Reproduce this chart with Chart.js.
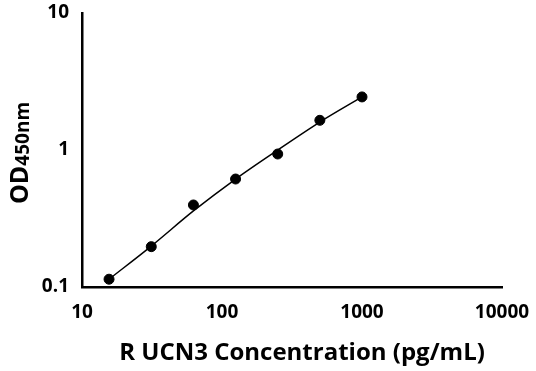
<!DOCTYPE html>
<html>
<head>
<meta charset="utf-8">
<script src="https://cdn.jsdelivr.net/npm/chart.js@4"></script>
<style>
html,body{margin:0;padding:0;background:#fff;}
#wrap{width:536px;height:371px;position:relative;}
</style>
</head>
<body>
<div id="wrap"><canvas id="c" width="536" height="371"></canvas></div>
<script>
// Data
const concentrations = [15.6, 31.25, 62.5, 125, 250, 500, 1000];
const odValues = [0.114, 0.197, 0.397, 0.614, 0.935, 1.647, 2.44];
// fitted curve
const curveX = [15.6, 31.25, 62.5, 125, 250, 500, 1000];
const curveY = [0.114, 0.199, 0.359, 0.614, 1.0, 1.60, 2.44];
const xTicks = [10, 100, 1000, 10000];
const yTicks = [0.1, 1, 10];
const xTitle = 'R UCN3 Concentration (pg/mL)';
const yTitleMain = 'OD';
const yTitleSub = '450nm';

const FONT = "'Open Sans', 'DejaVu Sans', sans-serif";

const titlePlugin = {
  id: 'titles',
  afterDraw(chart) {
    const ctx = chart.ctx;
    ctx.save();
    ctx.fillStyle = '#000';
    // x title
    ctx.font = "bold 24px " + FONT;
    ctx.textAlign = 'center';
    ctx.textBaseline = 'alphabetic';
    ctx.fillText(xTitle, 302, 360);
    // y title rotated with subscript
    ctx.translate(28, 153);
    ctx.rotate(-Math.PI / 2);
    ctx.font = "bold 25px " + FONT;
    const w1 = ctx.measureText(yTitleMain).width;
    ctx.font = "bold 19px " + FONT;
    const w2 = ctx.measureText(yTitleSub).width;
    const start = -(w1 + w2) / 2;
    ctx.textAlign = 'left';
    ctx.font = "bold 25px " + FONT;
    ctx.fillText(yTitleMain, start, 0);
    ctx.font = "bold 19px " + FONT;
    ctx.fillText(yTitleSub, start + w1, 1);
    ctx.restore();
  }
};

new Chart(document.getElementById('c'), {
  type: 'scatter',
  data: {
    datasets: [
      {
        label: 'curve',
        data: curveX.map((x, i) => ({x: x, y: curveY[i]})),
        showLine: true,
        borderColor: '#000',
        borderWidth: 1.5,
        pointRadius: 0,
        cubicInterpolationMode: 'monotone',
        fill: false
      },
      {
        label: 'points',
        data: concentrations.map((x, i) => ({x: x, y: odValues[i]})),
        showLine: false,
        backgroundColor: '#000',
        borderColor: '#000',
        pointRadius: 5,
        pointHoverRadius: 5
      }
    ]
  },
  options: {
    responsive: false,
    animation: false,
    events: [],
    layout: { padding: { left: 0, right: 34, top: 13, bottom: 0 } },
    plugins: { legend: { display: false }, tooltip: { enabled: false } },
    scales: {
      x: {
        type: 'logarithmic',
        min: 10, max: 10000,
        afterBuildTicks(axis) { axis.ticks = xTicks.map(v => ({value: v})); },
        afterFit(axis) { axis.height = 84; },
        grid: { display: false, drawTicks: true, tickLength: 8, tickWidth: 2.5, tickColor: '#000' },
        border: { display: true, color: '#000', width: 2.5 },
        ticks: {
          color: '#000',
          font: { family: FONT, size: 19, weight: 'bold' },
          padding: 6,
          maxRotation: 0,
          autoSkip: false,
          callback: (v) => String(v)
        }
      },
      y: {
        type: 'logarithmic',
        min: 0.1, max: 10,
        afterBuildTicks(axis) { axis.ticks = yTicks.map(v => ({value: v})); },
        afterFit(axis) { axis.width = 82; axis.paddingTop = 0; },
        grid: { display: false, drawTicks: true, tickLength: 8, tickWidth: 2.5, tickColor: '#000' },
        border: { display: true, color: '#000', width: 2.5 },
        ticks: {
          color: '#000',
          font: { family: FONT, size: 19, weight: 'bold' },
          padding: 5,
          autoSkip: false,
          callback: (v) => String(v)
        }
      }
    }
  },
  plugins: [titlePlugin]
});
</script>
</body>
</html>
